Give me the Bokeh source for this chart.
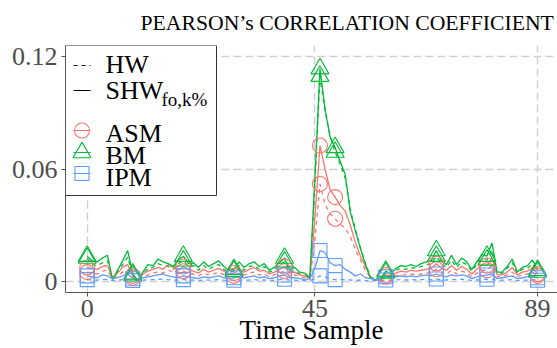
from bokeh.plotting import figure
from bokeh.models import Range1d, FixedTicker, Title
from bokeh.core.properties import value
from bokeh.embed import file_html
from bokeh.resources import INLINE

# ---------------- data ----------------
SAMPLES = list(range(90))

ASM_HW = [0.005, 0.0045, 0.004, 0.0055, 0.006, 0.0015, 0.003, 0.005, 0.006, 0.002,
          0.001, 0.0025, 0.0035, 0.0045, 0.005, 0.0045, 0.006, 0.005, 0.004, 0.0055,
          0.0045, 0.004, 0.003, 0.0045, 0.0035, 0.004, 0.005, 0.0035, 0.0025, 0.003,
          0.0045, 0.0035, 0.0045, 0.005, 0.0035, 0.004, 0.0025, 0.0035, 0.0045, 0.0055,
          0.003, 0.0035, 0.0025, 0.002, 0.001, 0.022, 0.052, 0.041, 0.036, 0.0335,
          0.0305, 0.0285, 0.024, 0.017, 0.0115, 0.006, 0.0018, 0.0006, 0.0008, 0.0025,
          0.002, 0.003, 0.0035, 0.0035, 0.004, 0.0035, 0.004, 0.0045, 0.005, 0.0065,
          0.0045, 0.004, 0.006, 0.004, 0.0055, 0.0045, 0.0025, 0.0045, 0.006, 0.006,
          0.0085, 0.0025, 0.0025, 0.0035, 0.005, 0.0025, 0.0035, 0.004, 0.005, 0.003]
ASM_SHW = [0.0075, 0.007, 0.0065, 0.008, 0.0085, 0.002, 0.0045, 0.0075, 0.009, 0.003,
           0.001, 0.004, 0.0055, 0.0065, 0.0075, 0.0065, 0.009, 0.0075, 0.006, 0.008,
           0.0065, 0.0055, 0.0045, 0.0065, 0.005, 0.006, 0.007, 0.0055, 0.004, 0.0045,
           0.0065, 0.005, 0.0065, 0.0075, 0.0055, 0.006, 0.004, 0.005, 0.0065, 0.008,
           0.0045, 0.005, 0.0035, 0.003, 0.0015, 0.034, 0.0725, 0.060, 0.049, 0.045,
           0.0405, 0.0375, 0.030, 0.021, 0.0135, 0.008, 0.002, 0.0008, 0.001, 0.0035,
           0.003, 0.0045, 0.0055, 0.005, 0.006, 0.0055, 0.006, 0.0065, 0.007, 0.0095,
           0.007, 0.006, 0.0085, 0.006, 0.008, 0.0065, 0.004, 0.0065, 0.009, 0.0085,
           0.0125, 0.0035, 0.0035, 0.005, 0.0075, 0.0035, 0.005, 0.0055, 0.0075, 0.004]
BM_HW = [0.0125, 0.009, 0.0085, 0.010, 0.011, 0.002, 0.005, 0.009, 0.013, 0.003,
         0.001, 0.004, 0.007, 0.0075, 0.0095, 0.0085, 0.008, 0.0065, 0.0095, 0.011,
         0.008, 0.0085, 0.006, 0.0085, 0.0065, 0.008, 0.009, 0.0065, 0.005, 0.0055,
         0.0085, 0.006, 0.008, 0.0085, 0.0065, 0.008, 0.005, 0.006, 0.0085, 0.0105,
         0.005, 0.006, 0.004, 0.0035, 0.0015, 0.052, 0.1095, 0.091, 0.078, 0.069,
         0.0625, 0.055, 0.038, 0.028, 0.018, 0.0095, 0.0025, 0.001, 0.0015, 0.0045,
         0.0035, 0.006, 0.007, 0.0065, 0.0075, 0.007, 0.008, 0.009, 0.0095, 0.0135,
         0.0095, 0.0075, 0.0115, 0.0075, 0.0105, 0.009, 0.0055, 0.009, 0.012, 0.0115,
         0.017, 0.0045, 0.0045, 0.007, 0.010, 0.0045, 0.0065, 0.007, 0.0095, 0.005]
BM_SHW = [0.0135, 0.011, 0.0105, 0.0125, 0.014, 0.001, 0.006, 0.011, 0.0165, 0.004,
          0.0005, 0.005, 0.009, 0.0085, 0.012, 0.0105, 0.0095, 0.008, 0.0115, 0.0135,
          0.0095, 0.010, 0.0075, 0.0105, 0.008, 0.0095, 0.011, 0.008, 0.006, 0.0065,
          0.0105, 0.0075, 0.0095, 0.0105, 0.008, 0.0095, 0.006, 0.0075, 0.010, 0.0125,
          0.006, 0.0075, 0.005, 0.0045, 0.002, 0.055, 0.1135, 0.092, 0.077, 0.0715,
          0.064, 0.057, 0.037, 0.027, 0.0175, 0.009, 0.002, 0.0008, 0.0015, 0.0055,
          0.004, 0.007, 0.0085, 0.008, 0.009, 0.008, 0.0095, 0.0105, 0.011, 0.0165,
          0.011, 0.009, 0.014, 0.009, 0.0125, 0.0105, 0.0065, 0.0105, 0.0145, 0.0135,
          0.0205, 0.005, 0.005, 0.008, 0.012, 0.005, 0.0075, 0.0085, 0.0115, 0.006]
IPM_HW = [0.001, 0.0008, 0.0007, 0.0012, 0.001, 0.0005, 0.0007, 0.001, 0.0013, 0.0005,
          0.0004, 0.0007, 0.0009, 0.001, 0.0012, 0.0013, 0.001, 0.0008, 0.0007, 0.001,
          0.0008, 0.0007, 0.0005, 0.0008, 0.0007, 0.0008, 0.001, 0.0007, 0.0005, 0.0007,
          0.0008, 0.0007, 0.0008, 0.001, 0.0007, 0.0008, 0.0005, 0.0007, 0.001, 0.0012,
          0.0007, 0.0007, 0.0005, 0.0004, 0.0005, 0.0015, 0.003, 0.0025, 0.0015, 0.001,
          0.0012, 0.001, 0.0008, 0.0006, 0.0008, 0.0005, 0.0005, 0.0004, 0.0005, 0.0008,
          0.0007, 0.0008, 0.001, 0.0008, 0.001, 0.0008, 0.001, 0.0012, 0.001, 0.0013,
          0.001, 0.0008, 0.0012, 0.001, 0.0012, 0.001, 0.0005, 0.0008, 0.001, 0.0012,
          0.0013, 0.0005, 0.0007, 0.0008, 0.001, 0.0005, 0.0007, 0.0008, 0.001, 0.0007]
IPM_SHW = [0.003, 0.0025, 0.002, 0.0035, 0.003, 0.0015, 0.002, 0.003, 0.004, 0.0015,
           0.001, 0.002, 0.0025, 0.003, 0.0035, 0.004, 0.003, 0.0025, 0.002, 0.003,
           0.0025, 0.002, 0.0015, 0.0025, 0.002, 0.0025, 0.003, 0.002, 0.0015, 0.002,
           0.0025, 0.002, 0.0025, 0.003, 0.002, 0.0025, 0.0015, 0.002, 0.003, 0.0035,
           0.002, 0.002, 0.0015, 0.001, 0.0015, 0.007, 0.0165, 0.0155, 0.010, 0.0085,
           0.009, 0.0065, 0.005, 0.003, 0.004, 0.002, 0.0015, 0.001, 0.0015, 0.0025,
           0.002, 0.0025, 0.003, 0.0025, 0.003, 0.0025, 0.003, 0.0035, 0.003, 0.004,
           0.003, 0.0025, 0.0035, 0.003, 0.0035, 0.003, 0.0015, 0.0025, 0.003, 0.0035,
           0.004, 0.0015, 0.002, 0.0025, 0.003, 0.0015, 0.002, 0.0025, 0.003, 0.002]

MARK_IDX = [0, 9, 19, 29, 39, 46, 49, 59, 69, 79, 89]
METHODS = ["ASM", "BM", "IPM"]
VARIANTS = ["HW", "SHW"]
SERIES = {("ASM", "HW"): ASM_HW, ("ASM", "SHW"): ASM_SHW,
          ("BM", "HW"): BM_HW, ("BM", "SHW"): BM_SHW,
          ("IPM", "HW"): IPM_HW, ("IPM", "SHW"): IPM_SHW}
X_TICKS = [0, 45, 89]
Y_TICKS = [0, 0.06, 0.12]
Y_TICK_LABELS = ["0", "0.06", "0.12"]
TITLE = "PEARSON\u2019s CORRELATION COEFFICIENT"
X_LABEL = "Time Sample"
LEGEND_LINE_LABELS = ["HW", "SHW"]
LEGEND_SUB = "fo,k%"

# ---------------- style ----------------
COLORS = {"ASM": "#F8766D", "BM": "#00BA38", "IPM": "#619CFF"}
MARKERS = {"ASM": "circle", "BM": "triangle", "IPM": "square"}
MSIZE = {"ASM": 15, "BM": 18, "IPM": 14}
DASH = {"HW": "4 4", "SHW": "solid"}
FONT = "Liberation Serif"
GREY = "#4D4D4D"

# pixel -> data helpers (for layout of non-data elements)
def px_x(px):
    return (px - 86.7) / 5.06

def px_y(py):
    return (281.0 - py) / 1875.0

W, H = 557, 348
p = figure(width=W, height=H, output_backend="svg", toolbar_location=None,
           x_range=Range1d(px_x(65), px_x(557)), y_range=Range1d(px_y(292), px_y(45)),
           min_border_left=65, min_border_right=0, min_border_top=45, min_border_bottom=56)
p.outline_line_color = None
p.background_fill_color = "white"
p.border_fill_color = "white"

# title
p.title = Title(text=TITLE, align="left", offset=75, text_font=FONT,
                text_font_size="21.7px", text_font_style="normal", text_color="black",
                vertical_align="top", standoff=18)

# axes
for ax in (p.xaxis[0], p.yaxis[0]):
    ax.axis_line_color = "#555555"
    ax.axis_line_width = 1
    ax.major_tick_line_color = "#555555"
    ax.major_tick_in = 0
    ax.major_tick_out = 4
    ax.minor_tick_line_color = None
    ax.major_label_text_font = FONT
    ax.major_label_text_font_size = "26px"
    ax.major_label_text_color = GREY
p.xaxis.ticker = FixedTicker(ticks=X_TICKS)
p.yaxis.ticker = FixedTicker(ticks=Y_TICKS)
p.yaxis.major_label_overrides = {t: l for t, l in zip(Y_TICKS, Y_TICK_LABELS)}
p.xaxis.major_label_standoff = 3
p.yaxis.major_label_standoff = 4
p.xaxis.axis_label = X_LABEL
p.xaxis.axis_label_text_font = FONT
p.xaxis.axis_label_text_font_size = "27px"
p.xaxis.axis_label_text_font_style = "normal"
p.xaxis.axis_label_text_color = "black"
p.xaxis.axis_label_standoff = -5

for g in (p.xgrid[0], p.ygrid[0]):
    g.grid_line_color = "#D0D0D0"
    g.grid_line_dash = "8 4"
    g.grid_line_width = 1.4

# data lines
for var in VARIANTS:
    for m in METHODS:
        p.line(SAMPLES, SERIES[(m, var)], line_color=COLORS[m], line_width=1.3,
               line_dash=DASH[var])
# markers
for var in VARIANTS:
    for m in METHODS:
        ys = SERIES[(m, var)]
        p.scatter([SAMPLES[i] for i in MARK_IDX], [ys[i] for i in MARK_IDX],
                  marker=MARKERS[m], size=MSIZE[m], fill_color=None,
                  line_color=COLORS[m], line_width=1.1)

# ---------------- legend (manual) ----------------
p.quad(left=[px_x(65)], right=[px_x(216)], top=[px_y(45)], bottom=[px_y(195)],
       fill_color="white", line_color="#333333", line_width=1)
lx0, lx1, lxm, tx = px_x(73), px_x(90), px_x(81.5), px_x(105)
# line type keys
for lab, var, yc, yb in zip(LEGEND_LINE_LABELS, VARIANTS, [65, 90], [64, 90]):
    p.line([lx0, lx1], [px_y(yc), px_y(yc)], line_color="black", line_width=1.2,
           line_dash=DASH[var])
    p.text(x=[tx], y=[px_y(yb)], text=[lab], text_font=value(FONT),
           text_font_size=value("26px"), text_baseline="alphabetic", text_color="black")
p.text(x=[px_x(161)], y=[px_y(99)], text=[LEGEND_SUB], text_font=value(FONT),
       text_font_size=value("19px"), text_baseline="alphabetic", text_color="black")
# method keys
for m, yc, yb in zip(METHODS, [130, 152, 173], [133, 155, 177]):
    p.line([lx0, lx1], [px_y(yc), px_y(yc)], line_color=COLORS[m], line_width=1.2)
    p.scatter([lxm], [px_y(yc)], marker=MARKERS[m], size=MSIZE[m], fill_color=None,
              line_color=COLORS[m], line_width=1.1)
    p.text(x=[tx], y=[px_y(yb)], text=[m], text_font=value(FONT),
           text_font_size=value("26px"), text_baseline="alphabetic", text_color="black")

open("out.html", "w").write(file_html(p, INLINE))
